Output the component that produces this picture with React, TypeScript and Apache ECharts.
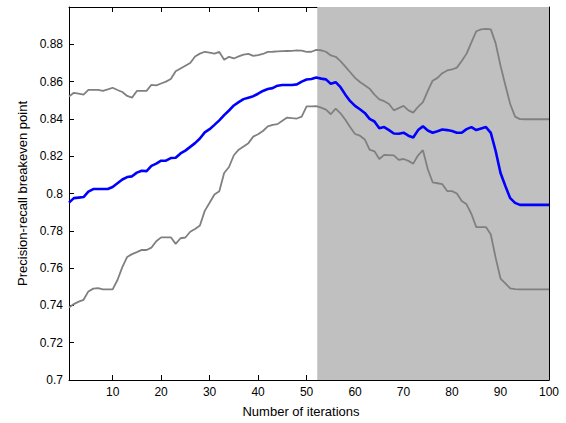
import React, { useEffect, useRef } from "react";
import * as echarts from "echarts";

const iterations: number[] = Array.from({ length: 100 }, (_, i) => i + 1);

const upperBound: number[] = [
  0.852, 0.854, 0.8535, 0.853, 0.8556, 0.8556, 0.8556, 0.855, 0.8558, 0.8567,
  0.8555, 0.8544, 0.8523, 0.8514, 0.855, 0.855, 0.855, 0.8583, 0.858, 0.859,
  0.86, 0.8614, 0.8655, 0.867, 0.8685, 0.87, 0.8735, 0.875, 0.876, 0.8755,
  0.875, 0.8759, 0.8717, 0.8733, 0.8724, 0.8735, 0.8745, 0.8749, 0.8738, 0.8742,
  0.8748, 0.8759, 0.876, 0.8762, 0.8763, 0.8764, 0.8765, 0.8767, 0.8766, 0.8759,
  0.876, 0.877, 0.8768, 0.876, 0.874, 0.8733, 0.871, 0.868, 0.865, 0.862,
  0.8598, 0.858, 0.8562, 0.853, 0.8505, 0.8495, 0.848, 0.8446, 0.8458, 0.847,
  0.8446, 0.8434, 0.8465, 0.849, 0.855, 0.8605, 0.862, 0.8645, 0.866, 0.8665,
  0.8675, 0.871, 0.875, 0.881, 0.887, 0.888, 0.8883, 0.888, 0.8805, 0.8685,
  0.858, 0.848, 0.8412, 0.8399, 0.8398, 0.8398, 0.8398, 0.8398, 0.8398, 0.8398,
];

const meanValue: number[] = [
  0.7951, 0.7975, 0.7978, 0.7981, 0.801, 0.8024, 0.8024, 0.8024, 0.8024, 0.8035,
  0.8055, 0.8075, 0.8088, 0.8092, 0.8112, 0.8122, 0.812, 0.8148, 0.816, 0.8176,
  0.8176, 0.819, 0.8192, 0.8215, 0.823, 0.825, 0.827, 0.8295, 0.8328, 0.8345,
  0.8368, 0.8392, 0.842, 0.8445, 0.8472, 0.849, 0.8506, 0.8514, 0.8522, 0.8535,
  0.855, 0.856, 0.8565, 0.8578, 0.8582, 0.8582, 0.8582, 0.8585, 0.86, 0.8611,
  0.8614, 0.8622, 0.8616, 0.8612, 0.8588, 0.8597, 0.857, 0.853, 0.8495, 0.847,
  0.8452, 0.8432, 0.84, 0.8386, 0.835, 0.8356, 0.834, 0.8322, 0.832, 0.8326,
  0.831, 0.83, 0.834, 0.836, 0.8338, 0.8326, 0.8334, 0.8343, 0.834, 0.8335,
  0.8326, 0.8326, 0.8345, 0.8356, 0.834, 0.8348, 0.8356, 0.8325, 0.8228, 0.811,
  0.804, 0.7975, 0.795, 0.7939, 0.7939, 0.7939, 0.7939, 0.7939, 0.7939, 0.7939,
];

const lowerBound: number[] = [
  0.7389, 0.7407, 0.742, 0.743, 0.7475, 0.749, 0.7493, 0.7486, 0.7486, 0.7486,
  0.7536, 0.7605, 0.766, 0.7675, 0.7686, 0.7698, 0.7697, 0.771, 0.7744, 0.7765,
  0.7765, 0.7765, 0.773, 0.776, 0.7764, 0.7795, 0.781, 0.7828, 0.7907, 0.795,
  0.7995, 0.8012, 0.811, 0.8142, 0.8205, 0.8235, 0.8252, 0.827, 0.8305, 0.8318,
  0.8335, 0.836, 0.8368, 0.8372, 0.839, 0.8407, 0.8404, 0.8402, 0.8412, 0.8467,
  0.8467, 0.8468, 0.846, 0.845, 0.8425, 0.8455, 0.843, 0.8395, 0.8355, 0.8319,
  0.831, 0.829, 0.8235, 0.8226, 0.8185, 0.8207, 0.8206, 0.8204, 0.818, 0.8185,
  0.8175, 0.816, 0.8205, 0.8232, 0.813, 0.806, 0.8055, 0.805, 0.8013, 0.8013,
  0.8, 0.796, 0.7942, 0.789, 0.782, 0.782, 0.782, 0.778, 0.7655, 0.7544,
  0.7518, 0.7491, 0.7487, 0.7486, 0.7486, 0.7486, 0.7486, 0.7486, 0.7486, 0.7486,
];

const xTicks: number[] = [10, 20, 30, 40, 50, 60, 70, 80, 90, 100];
const shadedRange: number[] = [52.2, 100];

const FONT = "'Liberation Sans', Arial, Helvetica, sans-serif";

export default function App() {
  const ref = useRef<HTMLDivElement>(null);

  useEffect(() => {
    if (!ref.current) return;
    const chart = echarts.init(ref.current, null, { renderer: "svg" });
    const pairs = (vals: number[]) => iterations.map((x, i) => [x, vals[i]]);
    const axisLine = { show: true, lineStyle: { color: "#000", width: 1 } };
    const tick = { show: true, inside: true, length: 5, lineStyle: { color: "#000", width: 1 } };

    chart.setOption({
      animation: false,
      backgroundColor: "#fff",
      textStyle: { fontFamily: FONT },
      grid: { left: 69, right: 17, top: 7, bottom: 39, containLabel: false },
      xAxis: [
        {
          type: "value",
          min: 1,
          max: 100,
          position: "bottom",
          name: "Number of iterations",
          nameLocation: "middle",
          nameGap: 25,
          nameTextStyle: { color: "#000", fontSize: 13, fontFamily: FONT, padding: [0, 16, 0, 0] },
          axisLine,
          axisTick: { ...tick, customValues: xTicks },
          axisLabel: {
            customValues: xTicks,
            color: "#000",
            fontSize: 12,
            margin: 6,
            fontFamily: FONT,
          },
          splitLine: { show: false },
        },
        {
          type: "value",
          min: 1,
          max: 100,
          position: "top",
          axisLine,
          axisTick: { ...tick, customValues: xTicks },
          axisLabel: { show: false },
          splitLine: { show: false },
        },
      ],
      yAxis: [
        {
          type: "value",
          min: 0.7,
          max: 0.9,
          interval: 0.02,
          position: "left",
          name: "Precision-recall breakeven point",
          nameLocation: "middle",
          nameGap: 39,
          nameTextStyle: { color: "#000", fontSize: 13, fontFamily: FONT },
          axisLine,
          axisTick: tick,
          axisLabel: {
            color: "#000",
            fontSize: 12,
            margin: 6,
            fontFamily: FONT,
            formatter: (v: number) => {
              const r = Math.round(v * 100) / 100;
              if (r >= 0.9) return "";
              return String(r);
            },
          },
          splitLine: { show: false },
        },
        {
          type: "value",
          min: 0.7,
          max: 0.9,
          interval: 0.02,
          position: "right",
          axisLine,
          axisTick: tick,
          axisLabel: { show: false },
          splitLine: { show: false },
        },
      ],
      series: [
        {
          type: "line",
          data: [],
          z: 1,
          silent: true,
          markArea: {
            silent: true,
            itemStyle: { color: "#c0c0c0" },
            data: [[{ xAxis: shadedRange[0] }, { xAxis: shadedRange[1] }]],
          },
        },
        {
          type: "line",
          data: pairs(upperBound),
          z: 3,
          symbol: "none",
          lineStyle: { color: "#808080", width: 1.8 },
        },
        {
          type: "line",
          data: pairs(lowerBound),
          z: 3,
          symbol: "none",
          lineStyle: { color: "#808080", width: 1.8 },
        },
        {
          type: "line",
          data: pairs(meanValue),
          z: 4,
          symbol: "none",
          lineStyle: { color: "#0000ff", width: 2.6 },
        },
      ],
    });

    return () => chart.dispose();
  }, []);

  return <div ref={ref} style={{ width: 566, height: 423, position: "absolute", left: 0, top: 0 }} />;
}
